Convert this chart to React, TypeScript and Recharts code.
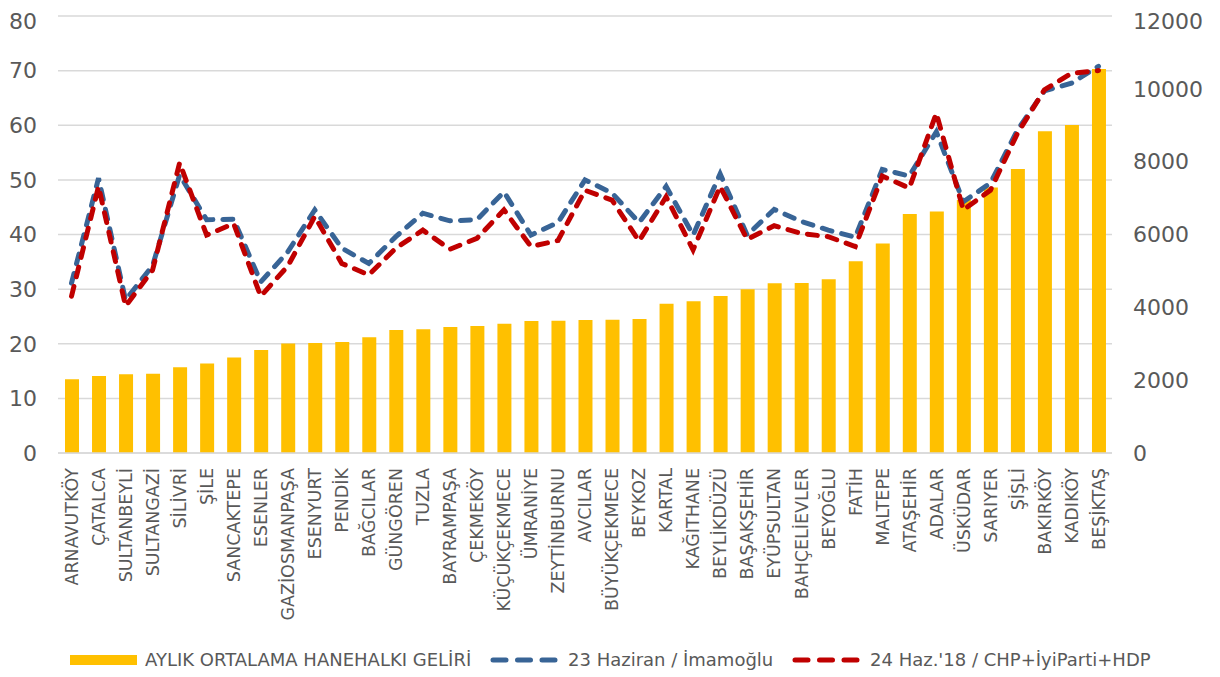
import React from "react";
import { ComposedChart, Bar, Line, XAxis, YAxis, CartesianGrid, Legend } from "recharts";

const districts = [
  "ARNAVUTKÖY", "ÇATALCA", "SULTANBEYLİ", "SULTANGAZİ", "SİLİVRİ", "ŞİLE", "SANCAKTEPE", "ESENLER",
  "GAZİOSMANPAŞA", "ESENYURT", "PENDİK", "BAĞCILAR", "GÜNGÖREN", "TUZLA", "BAYRAMPAŞA", "ÇEKMEKÖY",
  "KÜÇÜKÇEKMECE", "ÜMRANİYE", "ZEYTİNBURNU", "AVCILAR", "BÜYÜKÇEKMECE", "BEYKOZ", "KARTAL", "KAĞITHANE",
  "BEYLİKDÜZÜ", "BAŞAKŞEHİR", "EYÜPSULTAN", "BAHÇELİEVLER", "BEYOĞLU", "FATİH", "MALTEPE", "ATAŞEHİR",
  "ADALAR", "ÜSKÜDAR", "SARIYER", "ŞİŞLİ", "BAKIRKÖY", "KADIKÖY", "BEŞİKTAŞ",
];

const income = [
  2025, 2115, 2160, 2175, 2355, 2460, 2620, 2830, 3010, 3020, 3045, 3180, 3375, 3395, 3460, 3490,
  3550, 3625, 3630, 3650, 3660, 3680, 4100, 4170, 4310, 4500, 4660, 4665, 4770, 5265, 5755, 6565,
  6635, 6950, 7290, 7800, 8835, 9005, 10545,
];

const imamoglu = [
  31.1, 50.3, 28.0, 34.3, 50.9, 42.7, 42.8, 31.3, 36.8, 44.5, 37.5, 34.7, 39.6, 43.9, 42.5, 42.7,
  47.8, 39.9, 42.2, 50.0, 47.6, 42.2, 48.8, 39.9, 51.1, 39.9, 44.6, 42.4, 40.8, 39.5, 51.9, 50.7,
  58.8, 46.0, 49.4, 59.1, 66.3, 67.7, 70.8,
];

const chp2018 = [
  28.7, 48.8, 26.9, 33.5, 53.1, 39.9, 42.0, 28.7, 34.2, 43.3, 34.7, 32.6, 37.5, 40.8, 37.3, 39.3,
  44.5, 37.8, 38.9, 48.1, 46.3, 38.8, 46.9, 37.2, 48.8, 39.1, 41.6, 40.2, 39.6, 37.8, 50.7, 48.5,
  62.2, 44.5, 48.1, 58.5, 66.5, 69.5, 70.0,
];

const leftTicks = [0, 10, 20, 30, 40, 50, 60, 70, 80];
const rightTicks = [0, 2000, 4000, 6000, 8000, 10000, 12000];

const seriesNames = {
  income: "AYLIK ORTALAMA HANEHALKI GELİRİ",
  imamoglu: "23 Haziran / İmamoğlu",
  chp2018: "24 Haz.'18 / CHP+İyiParti+HDP",
};

const data = districts.map((d, i) => ({
  name: d,
  income: income[i],
  imamoglu: imamoglu[i],
  chp2018: chp2018[i],
}));

const FONT = "DejaVu Sans";
const TEXT = "#595959";
const BLUE = "#386496";
const RED = "#C00000";
const GOLD = "#FFC000";

const XTick = (props: any) => {
  const { x, y, payload } = props;
  return (
    <text
      x={x}
      y={y}
      transform={`rotate(-90, ${x}, ${y})`}
      textAnchor="end"
      dy="0.36em"
      fontSize={17.5}
      fill={TEXT}
      fontFamily={FONT}
    >
      {payload.value}
    </text>
  );
};

const DashMarker = ({ color }: { color: string }) => (
  <svg width={70} height={10} style={{ position: "absolute", top: 8 }}>
    <line x1={3} y1={5} x2={66} y2={5} stroke={color} strokeWidth={5} strokeLinecap="round" strokeDasharray="13 11.5" />
  </svg>
);

const renderLegend = () => (
  <div style={{ position: "relative", height: 30, width: 1212, fontFamily: FONT, fontSize: 18, color: TEXT }}>
    <div style={{ position: "absolute", left: 62, top: 8, width: 67, height: 10, background: GOLD }} />
    <span style={{ position: "absolute", left: 137, top: -2, lineHeight: "30px", whiteSpace: "nowrap" }}>{seriesNames.income}</span>
    <div style={{ position: "absolute", left: 482, top: 0 }}>
      <DashMarker color={BLUE} />
    </div>
    <span style={{ position: "absolute", left: 560, top: -2, lineHeight: "30px", whiteSpace: "nowrap" }}>{seriesNames.imamoglu}</span>
    <div style={{ position: "absolute", left: 784, top: 0 }}>
      <DashMarker color={RED} />
    </div>
    <span style={{ position: "absolute", left: 862, top: -2, lineHeight: "30px", whiteSpace: "nowrap" }}>{seriesNames.chp2018}</span>
  </div>
);

export default function App() {
  return (
    <ComposedChart
      width={1212}
      height={669}
      data={data}
      margin={{ top: 8, right: 0, left: 0, bottom: 0 }}
      barSize={14}
    >
      <CartesianGrid yAxisId="left" vertical={false} stroke="#D9D9D9" strokeWidth={1.5} />
      <XAxis
        dataKey="name"
        interval={0}
        height={194}
        tickSize={0}
        tickMargin={15}
        tickLine={false}
        axisLine={{ stroke: "#D9D9D9", strokeWidth: 1.5 }}
        tick={<XTick />}
      />
      <YAxis
        yAxisId="left"
        orientation="left"
        domain={[0, 80]}
        ticks={leftTicks}
        width={50}
        tickSize={0}
        tickMargin={21}
        axisLine={false}
        tickLine={false}
        tick={{ fontSize: 22, fill: TEXT, fontFamily: FONT }}
      />
      <YAxis
        yAxisId="right"
        orientation="right"
        domain={[0, 12000]}
        ticks={rightTicks}
        width={108}
        tickSize={0}
        tickMargin={21}
        axisLine={false}
        tickLine={false}
        tick={{ fontSize: 22, fill: TEXT, fontFamily: FONT }}
      />
      <Legend
        verticalAlign="bottom"
        content={renderLegend}
        wrapperStyle={{ left: 0, bottom: 0, width: 1212, height: 30 }}
      />
      <Bar yAxisId="right" dataKey="income" name={seriesNames.income} fill={GOLD} isAnimationActive={false} />
      <Line
        yAxisId="left"
        type="linear"
        dataKey="imamoglu"
        name={seriesNames.imamoglu}
        stroke={BLUE}
        strokeWidth={5}
        strokeDasharray="10 10"
        strokeLinecap="round"
        dot={false}
        activeDot={false}
        isAnimationActive={false}
      />
      <Line
        yAxisId="left"
        type="linear"
        dataKey="chp2018"
        name={seriesNames.chp2018}
        stroke={RED}
        strokeWidth={5}
        strokeDasharray="10 10"
        strokeLinecap="round"
        dot={false}
        activeDot={false}
        isAnimationActive={false}
      />
    </ComposedChart>
  );
}
